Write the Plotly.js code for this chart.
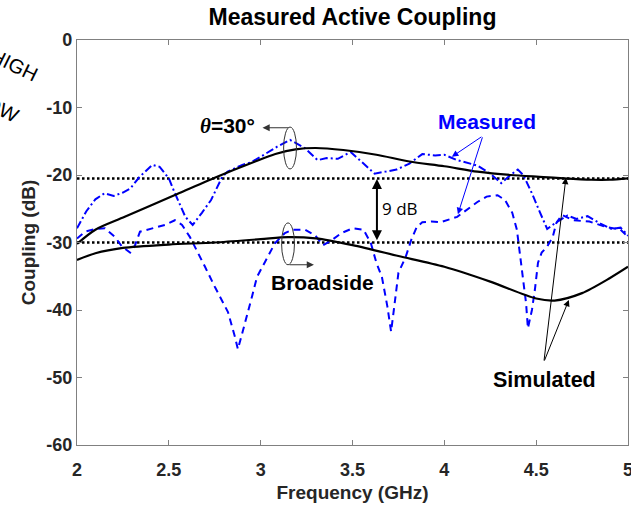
<!DOCTYPE html>
<html>
<head>
<meta charset="utf-8">
<script src="https://cdn.plot.ly/plotly-3.0.1.min.js"></script>
<style>html,body{margin:0;padding:0;background:#fff;}#chart{width:631px;height:510px;}</style>
</head>
<body>
<div id="chart"></div>
<script>
// Simulated, theta = 30 deg
const simThetaF = [2.0, 2.1, 2.26, 2.53, 2.75, 2.97, 3.08, 3.19, 3.3, 3.45, 3.63, 3.81, 4.0, 4.18, 4.36, 4.54, 4.65, 4.8, 4.9, 5.0];
const simThetaDB = [-30.2, -28.1, -26.2, -23.0, -20.4, -18.0, -16.9, -16.2, -16.0, -16.3, -17.0, -18.0, -18.7, -19.5, -20.0, -20.3, -20.5, -20.7, -20.7, -20.5];
// Simulated, broadside
const simBroadF = [2.0, 2.1, 2.25, 2.5, 2.75, 3.0, 3.15, 3.3, 3.5, 3.75, 4.0, 4.25, 4.5, 4.6, 4.75, 4.9, 5.0];
const simBroadDB = [-32.6, -31.6, -30.8, -30.3, -30.0, -29.5, -29.2, -29.4, -30.4, -32.0, -33.6, -35.8, -38.3, -38.6, -37.5, -35.3, -33.6];
// Measured, theta = 30 deg
const measThetaF = [2.0, 2.05, 2.1, 2.15, 2.2, 2.25, 2.29, 2.34, 2.41, 2.45, 2.5, 2.53, 2.59, 2.63, 2.68, 2.73, 2.79, 2.82, 2.9, 2.95, 3.0, 3.09, 3.16, 3.24, 3.31, 3.36, 3.42, 3.49, 3.56, 3.62, 3.68, 3.74, 3.81, 3.88, 3.95, 4.0, 4.07, 4.18, 4.25, 4.31, 4.36, 4.40, 4.43, 4.48, 4.52, 4.56, 4.61, 4.67, 4.72, 4.78, 4.85, 4.91, 4.96, 5.0];
const measThetaDB = [-27.9, -25.4, -23.6, -22.7, -23.1, -22.6, -22.0, -20.3, -18.5, -18.8, -20.5, -22.5, -26.2, -27.4, -25.6, -23.7, -20.3, -19.5, -18.5, -18.1, -17.3, -15.8, -14.8, -16.0, -17.8, -17.5, -17.6, -16.6, -18.3, -19.8, -19.5, -19.2, -18.3, -16.9, -17.1, -17.0, -17.8, -18.6, -19.8, -21.2, -20.0, -19.2, -20.0, -22.9, -25.5, -28.0, -27.0, -26.0, -26.5, -26.1, -27.2, -28.0, -27.8, -29.0];
// Measured, broadside
const measBroadF = [2.0, 2.044, 2.1, 2.152, 2.207, 2.245, 2.289, 2.316, 2.343, 2.408, 2.479, 2.533, 2.572, 2.615, 2.659, 2.697, 2.751, 2.789, 2.822, 2.86, 2.876, 2.904, 2.925, 2.953, 2.98, 3.023, 3.078, 3.132, 3.175, 3.241, 3.295, 3.34, 3.39, 3.44, 3.5, 3.56, 3.6, 3.63, 3.66, 3.69, 3.71, 3.725, 3.75, 3.79, 3.82, 3.85, 3.88, 3.93, 3.98, 4.07, 4.12, 4.18, 4.23, 4.29, 4.33, 4.37, 4.395, 4.41, 4.43, 4.445, 4.455, 4.477, 4.493, 4.51, 4.53, 4.56, 4.59, 4.61, 4.64, 4.7, 4.79, 4.88, 4.96, 5.0];
const measBroadDB = [-29.4, -28.4, -28.0, -27.9, -29.2, -30.6, -31.5, -30.4, -28.4, -27.9, -27.4, -26.7, -27.4, -29.2, -31.5, -33.6, -36.6, -38.5, -40.3, -44.0, -45.8, -43.0, -41.0, -38.0, -35.1, -33.0, -30.1, -28.6, -28.1, -28.1, -28.9, -30.4, -29.6, -28.6, -27.9, -28.1, -30.1, -33.0, -35.1, -39.5, -43.2, -40.0, -34.5, -32.1, -29.6, -27.7, -27.0, -26.9, -27.0, -26.2, -25.2, -24.0, -23.2, -23.0, -23.7, -25.6, -28.1, -31.5, -35.1, -39.0, -42.7, -40.0, -37.0, -33.0, -31.5, -30.6, -29.2, -27.1, -25.9, -26.7, -26.9, -27.7, -28.1, -29.2];
// Reference levels (dotted)
const refF = [2, 5];
const refLevelTheta = [-20.5, -20.5];
const refLevelBroad = [-30, -30];
// Ticks
const xTickVals = [2, 2.5, 3, 3.5, 4, 4.5, 5];
const xTickText = ['2', '2.5', '3', '3.5', '4', '4.5', '5'];
const yTickVals = [0, -10, -20, -30, -40, -50, -60];
const yTickText = ['0', '-10', '-20', '-30', '-40', '-50', '-60'];

const FONT = 'Liberation Sans, Arial, sans-serif';
const traces = [
  {x: refF, y: refLevelTheta, mode: 'lines', line: {color: '#000', width: 2.5, dash: '2.5px,2.5px'}, hoverinfo: 'skip'},
  {x: refF, y: refLevelBroad, mode: 'lines', line: {color: '#000', width: 2.5, dash: '2.5px,2.5px'}, hoverinfo: 'skip'},
  {x: measThetaF, y: measThetaDB, mode: 'lines', line: {color: '#0000ff', width: 2, dash: '8px,3px,2px,3px'}},
  {x: measBroadF, y: measBroadDB, mode: 'lines', line: {color: '#0000ff', width: 2, dash: '7px,5px'}},
  {x: simThetaF, y: simThetaDB, mode: 'lines', line: {color: '#000', width: 2.2, shape: 'spline', smoothing: 0.8}},
  {x: simBroadF, y: simBroadDB, mode: 'lines', line: {color: '#000', width: 2.2, shape: 'spline', smoothing: 0.8}}
];

const annotations = [
  // theta label + arrow
  {x: 2.82, y: -12.7, xref: 'x', yref: 'y', showarrow: false,
   text: '<span style="font-family:Liberation Serif"><i>θ</i></span>=30°', font: {family: FONT, size: 21, weight: 'bold', color: '#000'}},
  {x: 3.01, y: -13.0, ax: 3.16, ay: -13.0, xref: 'x', yref: 'y', axref: 'x', ayref: 'y', text: '', showarrow: true,
   arrowhead: 2, arrowsize: 1.2, arrowwidth: 1.2, arrowcolor: '#333'},
  // broadside label + arrow
  {x: 3.334, y: -35.9, xref: 'x', yref: 'y', showarrow: false, text: 'Broadside', font: {family: FONT, size: 21, weight: 'bold', color: '#000'}},
  {x: 3.29, y: -33.3, ax: 3.149, ay: -33.3, xref: 'x', yref: 'y', axref: 'x', ayref: 'y', text: '', showarrow: true,
   arrowhead: 2, arrowsize: 1.2, arrowwidth: 1.2, arrowcolor: '#333'},
  // Measured label + arrows
  {x: 4.232, y: -12.1, xref: 'x', yref: 'y', showarrow: false, text: 'Measured', font: {family: FONT, size: 21, weight: 'bold', color: '#0000ff'}},
  {x: 4.041, y: -17.3, ax: 4.21, ay: -14.2, xref: 'x', yref: 'y', axref: 'x', ayref: 'y', text: '', showarrow: true,
   arrowhead: 2, arrowsize: 1.3, arrowwidth: 1, arrowcolor: '#0000ff'},
  {x: 4.074, y: -25.8, ax: 4.21, ay: -14.2, xref: 'x', yref: 'y', axref: 'x', ayref: 'y', text: '', showarrow: true,
   arrowhead: 2, arrowsize: 1.3, arrowwidth: 1, arrowcolor: '#0000ff'},
  // 9 dB
  {x: 3.633, y: -20.6, ax: 3.633, ay: -29.9, xref: 'x', yref: 'y', axref: 'x', ayref: 'y', text: '', showarrow: true,
   arrowhead: 2, startarrowhead: 2, arrowside: 'end+start', arrowsize: 1, startarrowsize: 1, arrowwidth: 2, arrowcolor: '#000', standoff: 0, startstandoff: 0},
  {x: 3.757, y: -25.0, xref: 'x', yref: 'y', showarrow: false, text: '9 dB', font: {family: 'Open Sans, sans-serif', size: 17, color: '#000'}},
  // Simulated label + arrows
  {x: 4.548, y: -50.4, xref: 'x', yref: 'y', showarrow: false, text: 'Simulated', font: {family: FONT, size: 21.5, weight: 'bold', color: '#000'}},
  {x: 4.662, y: -20.4, ax: 4.542, ay: -47.7, xref: 'x', yref: 'y', axref: 'x', ayref: 'y', text: '', showarrow: true,
   arrowhead: 2, arrowsize: 1.3, arrowwidth: 1, arrowcolor: '#000'},
  {x: 4.678, y: -38.5, ax: 4.542, ay: -47.7, xref: 'x', yref: 'y', axref: 'x', ayref: 'y', text: '', showarrow: true,
   arrowhead: 2, arrowsize: 1.3, arrowwidth: 1, arrowcolor: '#000'},
  // cropped neighbouring text fragments
  {x: -0.114, y: 0.938, xref: 'paper', yref: 'paper', xanchor: 'center', yanchor: 'middle', showarrow: false, text: 'HIGH', textangle: 26, font: {family: FONT, size: 20, color: '#000'}},
  {x: -0.145, y: 0.835, xref: 'paper', yref: 'paper', xanchor: 'center', yanchor: 'middle', showarrow: false, text: 'LOW', textangle: 26, font: {family: FONT, size: 20, color: '#000'}}
];

const shapes = [
  {type: 'circle', xref: 'x', yref: 'y', x0: 3.125, x1: 3.195, y0: -12.9, y1: -19.1, line: {color: '#333', width: 1}},
  {type: 'circle', xref: 'x', yref: 'y', x0: 3.114, x1: 3.184, y0: -27.1, y1: -33.3, line: {color: '#333', width: 1}}
];

const axisCommon = {
  showgrid: false, zeroline: false, showline: true, linecolor: '#808080', linewidth: 1.2,
  mirror: 'ticks', ticks: 'inside', ticklen: 5, tickcolor: '#808080', tickwidth: 1,
  ticklabeloverflow: 'allow',
  tickfont: {family: FONT, size: 18, weight: 'bold', color: '#262626'}
};

const layout = {
  width: 631, height: 510,
  margin: {l: 77, r: 3, t: 40, b: 65},
  paper_bgcolor: '#fff', plot_bgcolor: '#fff',
  showlegend: false,
  title: {text: 'Measured Active Coupling', x: 0.5, xref: 'paper', y: 0.967, yref: 'container', yanchor: 'middle',
          font: {family: FONT, size: 23, weight: 'bold', color: '#000'}},
  xaxis: Object.assign({}, axisCommon, {range: [2, 5], tickvals: xTickVals, ticktext: xTickText, ticklabelstandoff: 8,
          title: {text: 'Frequency (GHz)', standoff: 7, font: {family: FONT, size: 19, weight: 'bold', color: '#262626'}}}),
  yaxis: Object.assign({}, axisCommon, {range: [-60, 0], tickvals: yTickVals, ticktext: yTickText, ticklabelstandoff: 0,
          title: {text: 'Coupling (dB)', standoff: 5, font: {family: FONT, size: 19, weight: 'bold', color: '#262626'}}}),
  annotations: annotations,
  shapes: shapes
};

Plotly.newPlot('chart', traces, layout, {staticPlot: true, displayModeBar: false});
</script>
</body>
</html>
